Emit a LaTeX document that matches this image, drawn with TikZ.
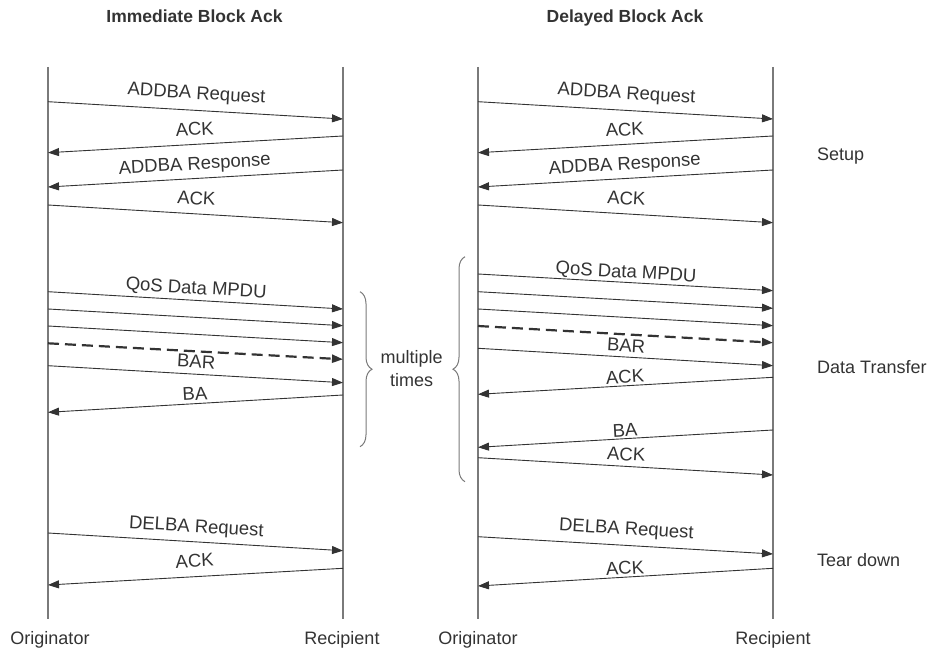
\documentclass[tikz,border=0pt]{standalone}
\usepackage{fontspec}
\setmainfont{Liberation Sans}
\usetikzlibrary{arrows.meta,calc,decorations.pathreplacing}
\definecolor{txt}{HTML}{333333}
\definecolor{ln}{HTML}{333333}
\definecolor{life}{HTML}{7A7A7A}
\newcommand\msgline[7][]{\draw[msg,#1] ($(#2)+(0,#3)$) -- ($(#4)+(0,#5)$) node[lbl,midway,above=#7pt]{#6};}
\begin{document}
\begin{tikzpicture}[x=1pt,y=-1pt,
  msg/.style={draw=ln,line width=0.9pt,-{Triangle[length=11pt,width=8pt]}},
  dashmsg/.style={line width=2.2pt,dash pattern=on 11pt off 6pt},
  lifeline/.style={draw=life,line width=1.3pt},
  lbl/.style={sloped,inner sep=0pt,text height=13.2pt,text depth=3.9pt,text=txt,font=\fontsize{18.5}{22}\selectfont},
  plain/.style={inner sep=0pt,text=txt,font=\fontsize{18}{21}\selectfont},
  ttl/.style={inner sep=0pt,text=txt,font=\fontsize{17.5}{21}\selectfont\bfseries},
  brc/.style={draw=life,line width=1pt,decorate,decoration={brace,amplitude=12pt}}]
\useasboundingbox (0,0) rectangle (929,652);
% lifeline anchors
\coordinate (LO) at (48,0);
\coordinate (LR) at (343,0);
\coordinate (RO) at (478,0);
\coordinate (RR) at (773,0);
\draw[lifeline] ($(LO)+(0,67)$) -- ($(LO)+(0,619)$);
\draw[lifeline] ($(LR)+(0,67)$) -- ($(LR)+(0,619)$);
\draw[lifeline] ($(RO)+(0,67)$) -- ($(RO)+(0,619)$);
\draw[lifeline] ($(RR)+(0,67)$) -- ($(RR)+(0,619)$);
% titles
\node[ttl,anchor=base] (t1) at (194.5,22.4) {Immediate Block Ack};
\node[ttl,anchor=base] (t2) at (625,22.4) {Delayed Block Ack};
% left diagram
\msgline{LO}{101.7}{LR}{119}{ADDBA Request}{7}
\msgline{LR}{136}{LO}{152.7}{ACK}{4.5}
\msgline{LR}{170}{LO}{187}{ADDBA Response}{4.5}
\msgline{LO}{205}{LR}{222.7}{ACK}{5}
\msgline{LO}{291.7}{LR}{309}{QoS Data MPDU}{2}
\msgline{LO}{309}{LR}{325.7}{}{0}
\msgline{LO}{326}{LR}{342.7}{}{0}
\msgline[dashmsg]{LO}{343.3}{LR}{359.3}{}{0}
\msgline{LO}{365.7}{LR}{382.7}{BAR}{2}
\msgline{LR}{395}{LO}{412.3}{BA}{-0.8}
\msgline{LO}{533}{LR}{550.7}{DELBA Request}{5.1}
\msgline{LR}{568.3}{LO}{585}{ACK}{5}
% right diagram
\msgline{RO}{101.7}{RR}{119}{ADDBA Request}{7}
\msgline{RR}{136}{RO}{152.7}{ACK}{4.1}
\msgline{RR}{170}{RO}{187}{ADDBA Response}{4.5}
\msgline{RO}{205}{RR}{222.7}{ACK}{5}
\msgline{RO}{274}{RR}{290.7}{QoS Data MPDU}{0.1}
\msgline{RO}{291.7}{RR}{308.3}{}{0}
\msgline{RO}{309}{RR}{325.7}{}{0}
\msgline[dashmsg]{RO}{326}{RR}{342.7}{}{0}
\msgline{RO}{348.3}{RR}{365.7}{BAR}{0.7}
\msgline{RR}{377.3}{RO}{394.3}{ACK}{-1.7}
\msgline{RR}{430}{RO}{447.3}{BA}{-2.1}
\msgline{RO}{457.7}{RR}{475}{ACK}{1.5}
\msgline{RO}{536.7}{RR}{554}{DELBA Request}{6.5}
\msgline{RR}{568.3}{RO}{586}{ACK}{-1.7}
% braces
\draw[brc] (360,291.7) -- (360,446.7);
\draw[brc] (465,481.7) -- (465,256.7);
\node[plain,anchor=base] (m1) at (411.7,363.3) {multiple};
\node[plain,anchor=base] (m2) at (411.7,386.3) {times};
% phase labels
\node[plain,anchor=base west] (p1) at (817,160.3) {Setup};
\node[plain,anchor=base west] (p2) at (817,373) {Data Transfer};
\node[plain,anchor=base west] (p3) at (817,566.3) {Tear down};
% endpoints
\node[plain,anchor=base] (e1) at (50,644.6) {Originator};
\node[plain,anchor=base] (e2) at (342,644.6) {Recipient};
\node[plain,anchor=base] (e3) at (478,644.6) {Originator};
\node[plain,anchor=base] (e4) at (773,644.6) {Recipient};
\end{tikzpicture}
\end{document}
